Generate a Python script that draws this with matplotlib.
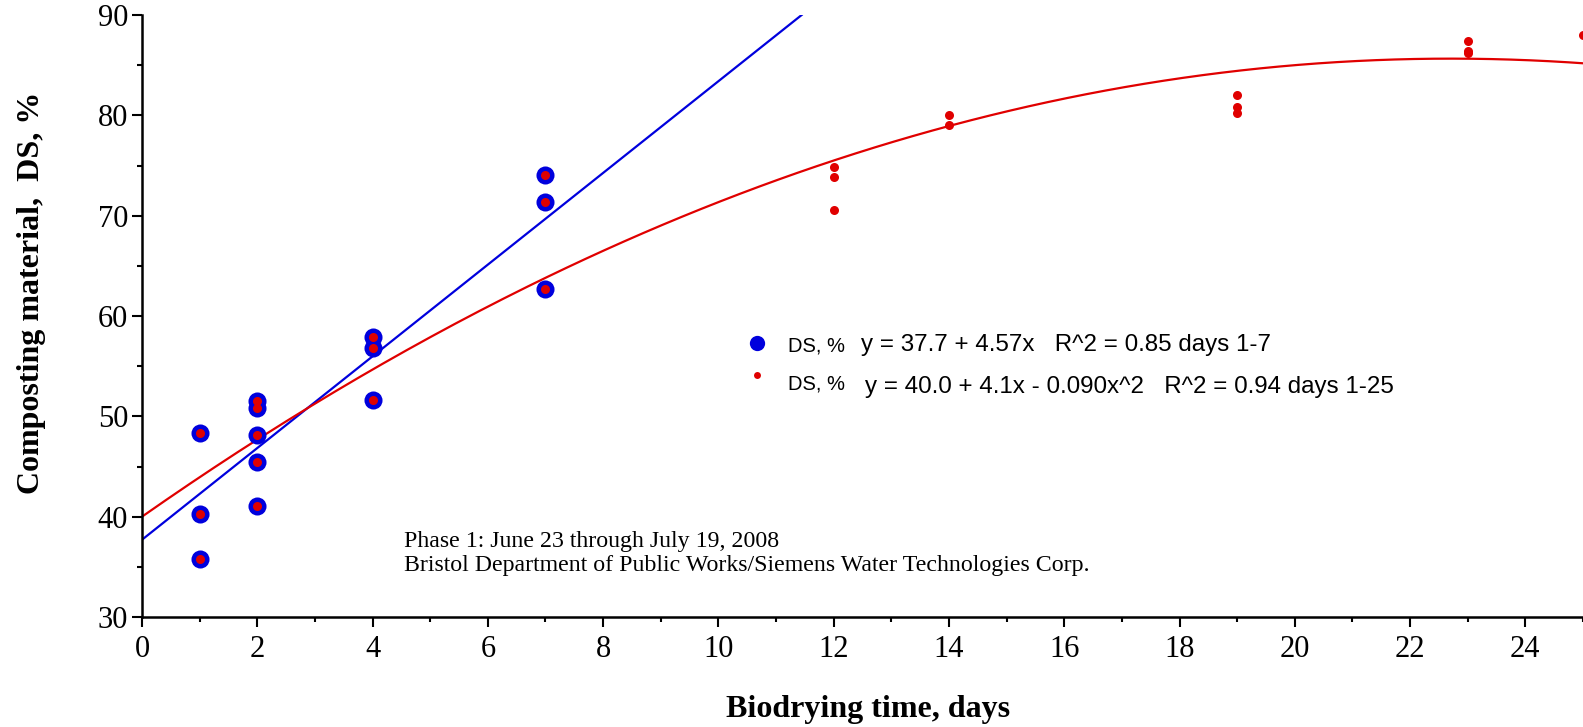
import numpy as np
import matplotlib
matplotlib.use("Agg")
import matplotlib.pyplot as plt

# ---- data ----
days_1_7 = [1, 1, 1, 2, 2, 2, 2, 2, 4, 4, 4, 7, 7, 7]
ds_1_7 = [48.3, 40.3, 35.8, 51.5, 50.8, 48.1, 45.4, 41.1, 57.9, 56.8, 51.6, 74.1, 71.4, 62.7]

days_late = [12, 12, 12, 14, 14, 19, 19, 19, 23, 23, 23, 25]
ds_late = [74.9, 73.9, 70.6, 80.0, 79.0, 82.0, 80.8, 80.2, 87.4, 86.4, 86.2, 88.0]

days_all = days_1_7 + days_late
ds_all = ds_1_7 + ds_late

# fit coefficients (intercept, slope[, quadratic]) as drawn in the reference
lin_coef = [37.7, 4.57]
quad_coef = [40.0, 4.02, -0.0885]

x_ticks = [0, 2, 4, 6, 8, 10, 12, 14, 16, 18, 20, 22, 24]
y_ticks = [30, 40, 50, 60, 70, 80, 90]

legend_lin = "y = 37.7 + 4.57x   R^2 = 0.85 days 1-7"
legend_quad = "y = 40.0 + 4.1x - 0.090x^2   R^2 = 0.94 days 1-25"
note_lines = ["Phase 1: June 23 through July 19, 2008",
              "Bristol Department of Public Works/Siemens Water Technologies Corp."]

# ---- figure ----
W, H = 1583, 727
fig = plt.figure(figsize=(W / 100, H / 100), dpi=100)
ax = fig.add_axes([142 / W, 1 - 617 / H, 1441 / W, 602 / H])

serif = "Liberation Serif"
sans = "Liberation Sans"
blue = "#0000dd"
red = "#e00000"

# fit lines
xl = np.linspace(0, (90 - lin_coef[0]) / lin_coef[1], 50)
ax.plot(xl, lin_coef[0] + lin_coef[1] * xl, color=blue, lw=1.6, zorder=2)
xq = np.linspace(0, 25, 300)
ax.plot(xq, quad_coef[0] + quad_coef[1] * xq + quad_coef[2] * xq ** 2,
        color=red, lw=1.6, zorder=2)

# points
ax.plot(days_1_7, ds_1_7, 'o', color=blue, ms=13, mew=0, zorder=3)
ax.plot(days_all, ds_all, 'o', color=red, ms=6.5, mew=0, zorder=4)

ax.set_xlim(0, 25)
ax.set_ylim(30, 90)
ax.set_xticks(x_ticks)
ax.set_xticks(np.arange(1, 26, 2), minor=True)
ax.set_yticks(y_ticks)
ax.set_yticks(np.arange(35, 90, 10), minor=True)
for s in ["top", "right"]:
    ax.spines[s].set_visible(False)
for s in ["left", "bottom"]:
    ax.spines[s].set_linewidth(1.8)
ax.tick_params(which="major", direction="out", length=7, width=1.5)
ax.tick_params(axis="x", which="major", pad=6)
ax.tick_params(axis="y", which="major", pad=3)
ax.tick_params(which="minor", direction="out", length=3.5, width=1.5)
for lab in ax.get_xticklabels() + ax.get_yticklabels():
    lab.set_fontfamily(serif)
    lab.set_fontsize(22)

ax.set_xlabel("Biodrying time, days", fontfamily=serif, fontweight="bold",
              fontsize=23, va="center")
ax.xaxis.set_label_coords(0.504, -0.154)
ax.set_ylabel("Composting material,  DS, %", fontfamily=serif, fontweight="bold",
              fontsize=23, va="center")
ax.yaxis.set_label_coords(-0.077, 0.538)

# legend (manual)
ax.plot([10.67], [57.3], 'o', color=blue, ms=11, mew=0, clip_on=False)
ax.plot([10.67], [54.1], 'o', color=red, ms=5, mew=0, clip_on=False)
ax.text(11.2, 57.0, "DS, %", fontfamily=sans, fontsize=14.5, va="center")
ax.text(12.47, 57.1, legend_lin, fontfamily=sans, fontsize=17.4, va="center")
ax.text(11.2, 53.2, "DS, %", fontfamily=sans, fontsize=14.5, va="center")
ax.text(12.54, 52.9, legend_quad, fontfamily=sans, fontsize=17.4, va="center")

# note
ax.text(4.54, 37.5, note_lines[0], fontfamily=serif, fontsize=17.2, va="center")
ax.text(4.54, 35.1, note_lines[1], fontfamily=serif, fontsize=17.2, va="center")

fig.savefig("out.png", dpi=100)
